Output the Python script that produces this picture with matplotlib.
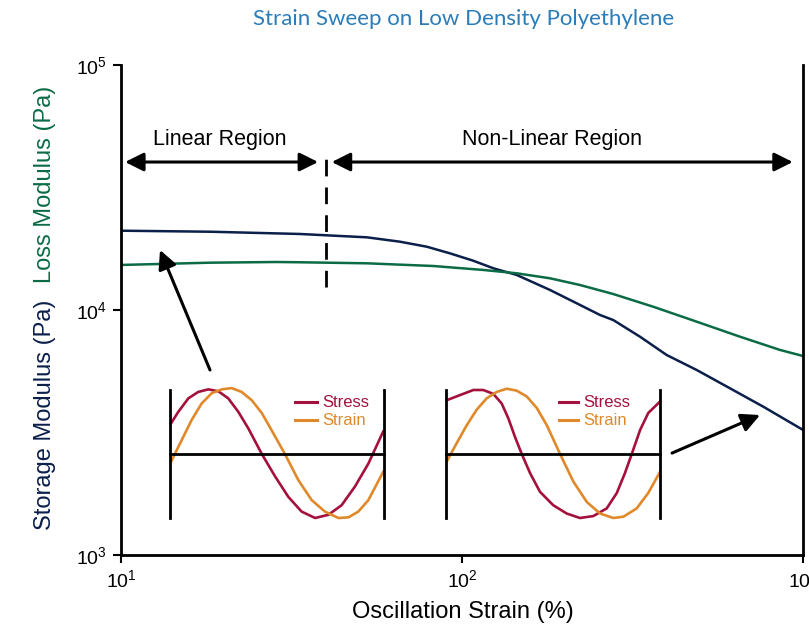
import matplotlib
matplotlib.use('Agg')
import matplotlib.pyplot as plt

plt.rcParams['font.family'] = ['Liberation Sans', 'DejaVu Sans']
plt.rcParams['mathtext.fontset'] = 'custom'
plt.rcParams['mathtext.rm'] = 'Liberation Sans'
plt.rcParams['mathtext.it'] = 'Liberation Sans:italic'

# main curves
strain = [10, 18.24, 33.5, 52.6, 65.8, 78.8, 92.2, 107.9, 123.6, 144.7, 181.2, 217,
          254, 277.7, 332.7, 398.4, 487.9, 610.8, 764.8, 1000]
storage = [2.107e4, 2.087e4, 2.043e4, 1.98e4, 1.90e4, 1.813e4, 1.703e4, 1.589e4, 1.48e4,
           1.39e4, 1.207e4, 1.065e4, 9.54e3, 9.10e3, 7.78e3, 6.55e3, 5.69e3, 4.79e3,
           4.03e3, 3.24e3]
strain_loss = [10, 18.24, 28.6, 33.5, 52.6, 82.4, 115.5, 144.7, 181.2, 221.8, 277.7,
               363.9, 487.9, 653.6, 856.2, 1000]
loss = [1.527e4, 1.56e4, 1.57e4, 1.566e4, 1.551e4, 1.512e4, 1.457e4, 1.412e4, 1.347e4,
        1.265e4, 1.162e4, 1.031e4, 8.96e3, 7.78e3, 6.87e3, 6.49e3]

xticks = [10, 100, 1000]
xticklabels = [r'$\mathrm{10^{1}}$', r'$\mathrm{10^{2}}$', r'$\mathrm{10^{3}}$']
yticks = [1e3, 1e4, 1e5]
yticklabels = [r'$\mathrm{10^{3}}$', r'$\mathrm{10^{4}}$', r'$\mathrm{10^{5}}$']

# inset waves (normalised: x over one frame, y = +-1 amplitude)
lin_stress_x = [0.005, 0.039, 0.086, 0.132, 0.179, 0.226, 0.272, 0.319, 0.366, 0.429,
                0.491, 0.553, 0.615, 0.678, 0.740, 0.802, 0.864, 0.927, 0.996]
lin_stress_y = [0.48, 0.66, 0.87, 0.97, 1.01, 0.98, 0.87, 0.66, 0.40, 0.0,
                -0.35, -0.67, -0.90, -1.0, -0.95, -0.80, -0.51, -0.15, 0.35]
lin_strain_x = [0.005, 0.055, 0.101, 0.148, 0.195, 0.242, 0.288, 0.335, 0.382, 0.429,
                0.475, 0.537, 0.600, 0.662, 0.724, 0.787, 0.834, 0.880, 0.927, 0.996]
lin_strain_y = [-0.12, 0.22, 0.53, 0.79, 0.95, 1.01, 1.03, 0.97, 0.84, 0.64,
                0.37, 0.0, -0.41, -0.72, -0.90, -1.0, -0.99, -0.90, -0.72, -0.28]

nl_stress_x = [0.003, 0.065, 0.128, 0.174, 0.221, 0.260, 0.291, 0.322, 0.354, 0.393,
               0.439, 0.501, 0.564, 0.626, 0.688, 0.751, 0.798, 0.836, 0.868, 0.907,
               0.945, 1.0]
nl_stress_y = [0.84, 0.92, 1.0, 1.0, 0.94, 0.79, 0.56, 0.27, 0.0, -0.30,
               -0.59, -0.80, -0.93, -1.0, -0.97, -0.85, -0.61, -0.30, 0.0, 0.375,
               0.64, 0.82]
nl_strain_x = [0.003, 0.050, 0.097, 0.143, 0.190, 0.237, 0.284, 0.330, 0.377, 0.424,
               0.471, 0.533, 0.595, 0.658, 0.720, 0.782, 0.829, 0.891, 0.945, 1.0]
nl_strain_y = [-0.12, 0.17, 0.45, 0.69, 0.87, 0.97, 1.02, 0.99, 0.90, 0.72,
               0.45, 0.0, -0.43, -0.75, -0.93, -1.0, -0.98, -0.85, -0.61, -0.28]

navy = '#0b1f4b'
green = '#0b6b45'
stress_c = '#a3113c'
strain_c = '#e0892b'

W, H = 809, 632
fig = plt.figure(figsize=(W / 100, H / 100), dpi=100)


def fx(px):
    return px / W


def fy(py):
    return 1 - py / H


ax = fig.add_axes([fx(121), fy(555), fx(803) - fx(121), fy(65) - fy(555)])
ax.plot(strain, storage, color=navy, lw=1.8, solid_joinstyle='round')
ax.plot(strain_loss, loss, color=green, lw=1.8, solid_joinstyle='round')
ax.set_xscale('log')
ax.set_yscale('log')
ax.set_xlim(10, 1000)
ax.set_ylim(1e3, 1e5)
ax.minorticks_off()
ax.set_xticks(xticks)
ax.set_xticklabels(xticklabels, fontsize=14)
ax.set_yticks(yticks)
ax.set_yticklabels(yticklabels, fontsize=14)
ax.tick_params(length=6, width=1.5, pad=4)
ax.spines['top'].set_visible(False)
for s in ['left', 'right', 'bottom']:
    ax.spines[s].set_linewidth(2)

fig.text(fx(463), fy(612), 'Oscillation Strain (%)', fontsize=17, ha='center', va='center')

# y label in two colours
fig.text(fx(45), fy(415), 'Storage Modulus (Pa)', rotation=90, color=navy,
         fontsize=17, ha='center', va='center')
fig.text(fx(45), fy(184), 'Loss Modulus (Pa)', rotation=90, color=green,
         fontsize=17, ha='center', va='center')

fig.text(fx(464), fy(19), 'Strain Sweep on Low Density Polyethylene', color='#2b7db9',
         fontsize=16, ha='center', va='center', family='Lato')

# region annotations (axes fraction)
arr = dict(arrowstyle='<|-|>', color='k', lw=2.2, mutation_scale=28, shrinkA=0, shrinkB=0)
ax.annotate('', xy=(0.289, 0.802), xytext=(0.006, 0.802), xycoords='axes fraction', arrowprops=arr)
ax.annotate('', xy=(0.985, 0.802), xytext=(0.309, 0.802), xycoords='axes fraction', arrowprops=arr)
ax.plot([0.3006, 0.3006], [0.547, 0.810], transform=ax.transAxes, color='k', lw=2,
        dashes=(6, 4), clip_on=False)
ax.text(0.145, 0.847, 'Linear Region', transform=ax.transAxes, ha='center', va='center', fontsize=15.5)
ax.text(0.632, 0.847, 'Non-Linear Region', transform=ax.transAxes, ha='center', va='center', fontsize=15.5)

one = dict(arrowstyle='-|>', color='k', lw=2.2, mutation_scale=28, shrinkA=0, shrinkB=0)
ax.annotate('', xy=(0.0572, 0.6224), xytext=(0.1305, 0.3776), xycoords='axes fraction', arrowprops=one)
ax.annotate('', xy=(0.937, 0.2857), xytext=(0.808, 0.208), xycoords='axes fraction', arrowprops=one)


def inset(x0, x1, sx, sy, tx, ty, leg0, leg1):
    a = fig.add_axes([fx(x0), fy(518), fx(x1) - fx(x0), fy(390) - fy(518)])
    a.set_xlim(0, 1)
    a.set_ylim(-1, 1)
    a.axis('off')
    a.plot(sx, sy, color=stress_c, lw=1.9, clip_on=False, solid_joinstyle='round')
    a.plot(tx, ty, color=strain_c, lw=1.9, clip_on=False, solid_joinstyle='round')
    a.plot([0, 1], [0, 0], color='k', lw=2, clip_on=False)
    a.plot([0, 0], [-1, 1], color='k', lw=2, clip_on=False)
    a.plot([1, 1], [-1, 1], color='k', lw=2, clip_on=False)
    a.plot([leg0, leg1], [0.81, 0.81], color=stress_c, lw=2.2)
    a.plot([leg0, leg1], [0.53, 0.53], color=strain_c, lw=2.2)
    a.text(leg1 + 0.025, 0.81, 'Stress', color=stress_c, fontsize=12, va='center')
    a.text(leg1 + 0.025, 0.53, 'Strain', color=strain_c, fontsize=12, va='center')


inset(170, 384, lin_stress_x, lin_stress_y, lin_strain_x, lin_strain_y, 0.584, 0.687)
inset(446, 660, nl_stress_x, nl_stress_y, nl_strain_x, nl_strain_y, 0.528, 0.617)

fig.savefig('out.png', dpi=100)
